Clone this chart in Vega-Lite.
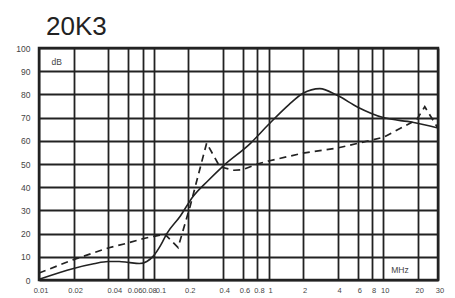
{
  "$schema": "https://vega.github.io/schema/vega-lite/v6.json",
  "autosize": "none",
  "width": 399,
  "height": 232,
  "padding": {"left": 39, "top": 48, "right": 17, "bottom": 18},
  "background": "white",
  "title": {
    "text": "20K3",
    "anchor": "start",
    "frame": "group",
    "font": "Liberation Sans",
    "fontSize": 26,
    "fontWeight": "normal",
    "color": "#222",
    "baseline": "alphabetic",
    "offset": 10,
    "dx": 7,
    "dy": 27
  },
  "config": {
    "view": {"stroke": "#222", "strokeWidth": 2.5},
    "axis": {
      "labelFont": "Liberation Sans",
      "labelColor": "#444",
      "ticks": false,
      "domain": false,
      "grid": true,
      "gridColor": "#222",
      "gridWidth": 1.8,
      "gridOpacity": 1,
      "title": null,
      "labelOverlap": false,
      "labelFlush": false
    }
  },
  "datasets": {
    "curves": [
      {"f": 0.01, "db": 0.3, "s": "solid"},
      {"f": 0.02, "db": 5, "s": "solid"},
      {"f": 0.03, "db": 7, "s": "solid"},
      {"f": 0.04, "db": 8, "s": "solid"},
      {"f": 0.05, "db": 8, "s": "solid"},
      {"f": 0.06, "db": 7.6, "s": "solid"},
      {"f": 0.075, "db": 7.1, "s": "solid"},
      {"f": 0.087, "db": 8, "s": "solid"},
      {"f": 0.1, "db": 10.5, "s": "solid"},
      {"f": 0.115, "db": 15, "s": "solid"},
      {"f": 0.13, "db": 20, "s": "solid"},
      {"f": 0.17, "db": 27.5, "s": "solid"},
      {"f": 0.22, "db": 36, "s": "solid"},
      {"f": 0.3, "db": 43, "s": "solid"},
      {"f": 0.4, "db": 49, "s": "solid"},
      {"f": 0.7, "db": 59, "s": "solid"},
      {"f": 1, "db": 67, "s": "solid"},
      {"f": 1.5, "db": 75.5, "s": "solid"},
      {"f": 2, "db": 80.5, "s": "solid"},
      {"f": 2.8, "db": 82.5, "s": "solid"},
      {"f": 4, "db": 79.5, "s": "solid"},
      {"f": 6, "db": 74.5, "s": "solid"},
      {"f": 10, "db": 70, "s": "solid"},
      {"f": 18, "db": 68, "s": "solid"},
      {"f": 30, "db": 65.5, "s": "solid"},
      {"f": 0.01, "db": 3, "s": "dashed"},
      {"f": 0.02, "db": 8.8, "s": "dashed"},
      {"f": 0.04, "db": 13.8, "s": "dashed"},
      {"f": 0.06, "db": 16, "s": "dashed"},
      {"f": 0.08, "db": 17.8, "s": "dashed"},
      {"f": 0.1, "db": 18.8, "s": "dashed"},
      {"f": 0.125, "db": 19.8, "s": "dashed"},
      {"f": 0.163, "db": 14, "s": "dashed"},
      {"f": 0.207, "db": 31.6, "s": "dashed"},
      {"f": 0.289, "db": 59, "s": "dashed"},
      {"f": 0.377, "db": 48.8, "s": "dashed"},
      {"f": 0.5, "db": 47.3, "s": "dashed"},
      {"f": 0.6, "db": 47.6, "s": "dashed"},
      {"f": 0.8, "db": 50, "s": "dashed"},
      {"f": 1, "db": 51.3, "s": "dashed"},
      {"f": 2, "db": 54.7, "s": "dashed"},
      {"f": 4, "db": 56.9, "s": "dashed"},
      {"f": 6, "db": 58.9, "s": "dashed"},
      {"f": 10, "db": 61.5, "s": "dashed"},
      {"f": 19.5, "db": 69, "s": "dashed"},
      {"f": 23, "db": 74.7, "s": "dashed"},
      {"f": 30, "db": 65.4, "s": "dashed"}
    ],
    "notes": [
      {"f": 0.0143, "db": 94, "t": "dB"},
      {"f": 14, "db": 4.3, "t": "MHz"}
    ]
  },
  "encoding": {
    "x": {
      "field": "f", "type": "quantitative",
      "scale": {"type": "log", "domain": [0.01, 30], "nice": false},
      "axis": {
        "values": [0.01, 0.02, 0.04, 0.06, 0.08, 0.1, 0.2, 0.4, 0.6, 0.8, 1, 2, 4, 6, 8, 10, 20, 30],
        "format": "~g",
        "labelFontSize": 7.5,
        "labelPadding": 6,
        "labelAlign": {"condition": {"test": "datum.value >= 0.035 && datum.value <= 0.11", "value": "left"}, "value": "center"},
        "labelOffset": {"condition": {"test": "datum.value >= 0.035 && datum.value <= 0.09", "value": -1}, "value": 1.5}
      }
    },
    "y": {
      "field": "db", "type": "quantitative",
      "scale": {"domain": [0, 100], "nice": false},
      "axis": {"values": [0, 10, 20, 30, 40, 50, 60, 70, 80, 90, 100], "labelPadding": 9, "labelFontSize": 8.5}
    }
  },
  "layer": [
    {
      "data": {"name": "curves"},
      "transform": [{"filter": "datum.s === 'solid'"}],
      "mark": {"type": "line", "interpolate": "monotone", "color": "#222", "strokeWidth": 1.6, "clip": true}
    },
    {
      "data": {"name": "curves"},
      "transform": [{"filter": "datum.s === 'dashed'"}],
      "mark": {"type": "line", "interpolate": "linear", "color": "#222", "strokeWidth": 1.7, "strokeDash": [7, 5], "clip": true}
    },
    {
      "data": {"name": "notes"},
      "mark": {"type": "text", "font": "Liberation Sans", "fontSize": 8.5, "color": "#444"},
      "encoding": {"text": {"field": "t"}}
    }
  ]
}
